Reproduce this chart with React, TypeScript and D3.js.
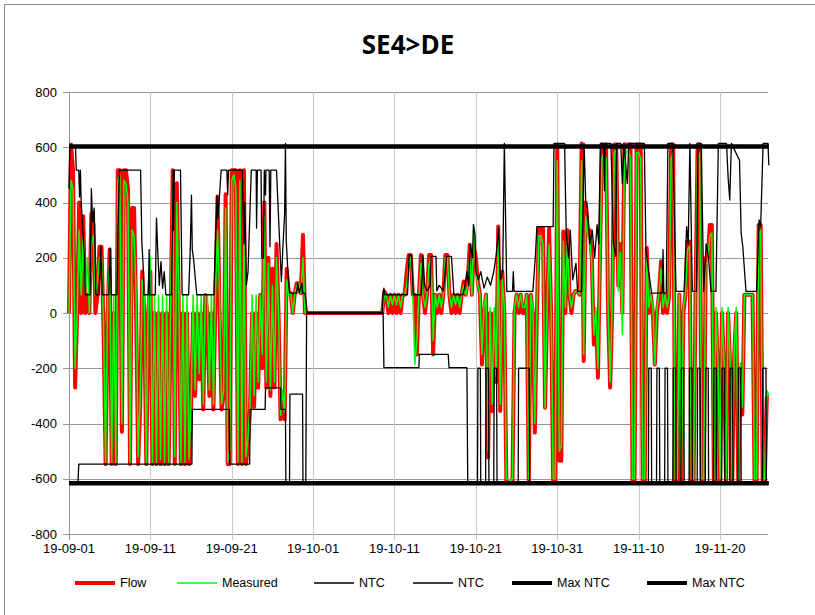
import React from 'react';
import * as d3 from 'd3';

// hourly flows sampled every 6 hours, day 0 = 2019-09-01
const startDate = new Date(2019, 8, 1);
const stepDays = 0.25;

const flow = [
  0, 610, 517, -270, 0, 400, 0, 350, 0, 65, 0, 360, 320, 0, 65, 240,
  240, -66, -547, 0, 230, -547, 0, -547, 517, 517, -430, 517, 517, 450, -547, 380,
  380, 0, -547, -340, 150, 0, -547, 0, 150, -547, 0, -547, 0, -547, 0, -547,
  0, -547, 0, 517, -547, 470, 0, -547, 0, -547, 0, -547, -349, 0, -300, 0,
  -240, 0, -349, 65, 0, -300, 0, -349, 65, 420, 0, -349, -300, 430, -547, -547,
  517, 517, 517, -547, 517, -547, 517, -547, -475, -349, 0, -340, 0, -270, 65, -200,
  400, -270, 200, -300, 160, -270, 250, 0, -385, -300, -385, 160, 72, 72, 0, 72,
  108, 108, 72, 283,
  0, 0, 0, 0, 0, 0, 0, 0, 0, 0, 0, 0, 0, 0, 0, 0, 0, 0,
  0, 0, 0, 0, 0, 0, 0, 0, 0, 0, 0, 0, 0, 0, 0, 0, 0, 0,
  0, 0, 0, 78, 66, 0, 66, 0, 66, 0, 66, 0, 66, 66, 150, 210,
  210, 66, 66, -150, 66, 210, 66, 0, 66, 210, 210, -150, 66, 0, 66, 0,
  66, 210, 210, 66, 0, 66, 0, 66, 0, 66, 114, 66, 114, 247, 66, 240,
  200, 114, 66, -186, 0, 66, -523, 0, -355, 0, -250, 313, -355, 150, 0, -614,
  -614, -614, -614, 0, 66, 0, 66, 0, 0, 66, -614, 66, 0, -433, 0, 307,
  307, 307, -343, 0, 307, 0, -614, -614, 610, -535, -535, 295, 0, 300, 66, 0,
  66, 80, 80, 66, 614, -174, 400, 300, 300, 200, -114, 0, -234, 200, 610, 610,
  610, 0, -270, 0, 610, 610, 100, 250, 0, 610, 610, 610, 610, -614, -614, 610,
  610, 610, -614, -614, 235, 0, 66, 0, -186, 0, 66, 187, 0, 66, 0, 66,
  610, 610, -614, -614, 66, -614, 0, 66, 259, 259, -614, -614, 66, 610, 610, -614,
  -614, 199, 199, 319, 319, -614, 0, -200, -614, 0, -200, -614, 0, -200, -614, -150,
  0, -614, -200, -367, 66, 66, 66, 66, 66, -614, -614, 319, 319, -614, -614, -307,
  -307,
];

const measured = [
  0, 480, 450, -200, 0, 300, 65, 280, 65, 200, 0, 250, 280, 65, 120, 200,
  200, -50, -540, 65, 180, -540, 65, -540, 480, 500, -400, 480, 470, 400, -540, 300,
  280, 65, -520, -300, 120, 65, -540, 65, 200, -540, 65, -540, 65, -530, 65, -540,
  65, -540, 65, 450, -520, 400, 65, -540, 65, -540, 65, -530, -330, 65, -280, 65,
  -220, 65, -330, 65, 65, -280, 65, -330, 65, 300, 65, -330, -280, 380, -540, -500,
  480, 500, 450, -540, 480, -540, 300, -520, -450, -330, 65, -300, 65, -250, 65, -150,
  350, -250, 180, -280, 100, -250, 200, 0, -370, -280, -360, 120, 65, 72, 0, 72,
  100, 108, 72, 200,
  0, 0, 0, 0, 0, 0, 0, 0, 0, 0, 0, 0, 0, 0, 0, 0, 0, 0,
  0, 0, 0, 0, 0, 0, 0, 0, 0, 0, 0, 0, 0, 0, 0, 0, 0, 0,
  0, 0, 0, 60, 66, 20, 66, 30, 66, 30, 66, 20, 66, 66, 100, 180,
  200, 66, -186, -100, 66, 180, 66, 20, 66, 180, 200, -100, 66, 20, 66, 20,
  66, 200, 200, 66, 20, 66, 30, 66, 20, 66, 100, 66, 100, 200, 66, 313,
  150, 100, 66, -150, 20, 66, -500, 20, -330, 20, -230, 280, -330, 120, 20, -600,
  -600, -610, -600, 20, 66, 20, 66, 20, 20, 66, -600, 66, 20, -400, 20, 280,
  280, 250, -343, 20, 250, 20, -600, -600, 550, -500, -480, 260, 20, 260, 66, 20,
  66, 80, 80, 66, 550, -150, 350, 280, 260, 180, -80, 20, -200, 180, 560, 580,
  560, 20, -250, 20, 580, 590, 80, 220, -78, 560, 580, 590, 560, -600, -600, 580,
  580, 560, -600, -600, 200, 20, 66, 20, -186, 20, 66, 160, 20, 66, 20, 66,
  560, 580, -600, -600, 66, -600, 20, 66, 230, 240, -600, -600, 66, 560, 580, -600,
  -600, 180, 180, 280, 290, -600, 20, -180, -600, 20, -180, -600, 20, -180, -600, -130,
  20, -600, -180, -340, 66, 66, 66, 66, 66, -600, -600, 280, 300, -600, -600, -280,
  -300,
];

// [day, MW]
const ntcUp: [number, number][] = [
  [0, 450], [0.1, 600], [0.8, 600], [0.9, 517], [1.2, 517], [1.3, 420], [1.4, 517], [1.5, 400],
  [1.7, 300], [1.9, 200], [2.0, 66], [2.6, 66], [2.75, 450], [2.9, 330], [3.1, 380], [3.3, 66],
  [3.7, 66], [3.9, 240], [4.1, 66], [4.9, 66], [5.05, 235], [5.2, 66], [5.9, 66], [6.0, 283],
  [6.2, 517], [8.8, 517], [8.95, 259], [9.15, 150], [9.2, 66], [9.75, 66], [9.85, 229], [9.95, 66],
  [10.6, 66], [10.75, 343], [10.9, 229], [11.1, 100], [11.3, 186], [11.5, 90], [11.7, 150], [11.9, 66],
  [12.6, 66], [12.8, 517], [12.85, 300], [12.95, 517], [13.7, 517], [13.9, 66], [14.7, 66], [14.9, 229],
  [15.05, 427], [15.15, 229], [15.3, 198], [15.7, 66], [17.8, 66], [18.0, 259], [18.2, 427], [18.3, 340],
  [18.7, 517], [19.4, 517], [19.5, 427], [19.6, 517], [21.3, 517], [21.5, 250], [21.6, 400], [21.8, 102],
  [22.0, 150], [22.4, 517], [23.0, 517], [23.05, 307], [23.15, 517], [23.6, 517], [23.7, 198], [23.9, 198],
  [24.0, 517], [24.15, 427], [24.2, 517], [24.6, 517], [24.7, 240], [24.8, 517], [25.5, 517], [25.9, 247],
  [26.1, 114], [26.3, 247], [26.5, 360], [26.6, 614], [26.7, 260], [26.9, 150], [27.1, 72], [28.0, 72],
  [28.1, 108], [28.3, 72], [28.6, 108], [28.7, 72], [29.0, 72], [29.3, 0], [38.5, 0], [38.6, 72],
  [38.7, 90], [38.8, 66], [41.6, 66], [41.8, 210], [42.1, 210], [42.3, 66], [43.3, 66], [43.5, 210],
  [43.7, 100], [44.0, 80], [44.4, 100], [44.5, 205], [45.1, 205], [45.2, 80], [45.5, 100], [46.0, 80],
  [46.4, 205], [47.0, 205], [47.3, 66], [48.4, 66], [48.6, 90], [48.9, 150], [49.1, 100], [49.3, 247],
  [49.6, 200], [49.7, 320], [49.9, 283], [50.0, 150], [50.3, 120], [50.6, 150], [51.0, 90], [51.4, 130],
  [51.8, 100], [52.2, 150], [52.5, 210], [52.8, 307], [53.0, 120], [53.3, 150], [53.5, 614], [53.8, 78],
  [54.5, 78], [54.6, 150], [54.7, 78], [57.0, 78], [57.3, 198], [57.5, 313], [59.5, 313], [59.6, 614],
  [60.9, 614], [61.1, 295], [61.4, 200], [61.6, 300], [61.9, 120], [62.3, 180], [62.5, 78], [63.0, 78],
  [63.3, 614], [63.5, 403], [63.7, 380], [64.0, 250], [64.3, 300], [64.6, 200], [64.9, 320], [65.1, 250],
  [65.3, 614], [65.7, 614], [65.8, 443], [65.9, 614], [66.6, 614], [66.9, 253], [67.2, 205], [67.3, 614],
  [67.8, 614], [68.0, 469], [68.2, 614], [68.6, 469], [68.8, 614], [70.7, 614], [70.9, 229], [71.2, 156],
  [71.6, 72], [72.9, 72], [73.0, 229], [73.1, 72], [73.4, 72], [73.6, 614], [74.2, 614], [74.6, 78],
  [75.6, 78], [75.9, 313], [76.1, 250], [76.3, 614], [76.6, 78], [77.1, 78], [77.3, 614], [77.7, 614],
  [78.0, 78], [78.3, 250], [78.6, 200], [78.9, 78], [79.5, 78], [79.8, 614], [80.8, 614], [81.0, 490],
  [81.2, 409], [81.4, 614], [82.4, 553], [82.6, 289], [82.8, 240], [83.2, 78], [84.5, 78], [84.8, 337],
  [85.0, 313], [85.3, 614], [85.9, 614], [86.0, 535],
];

const ntcDown: [number, number][] = [
  [0, -614], [1.1, -614], [1.2, -547], [15.1, -547], [15.15, -349], [19.7, -349], [19.75, -547], [22.2, -547],
  [22.25, -349], [24.1, -349], [24.15, -271], [26.0, -271], [26.05, -349], [26.6, -349], [26.65, -614], [27.1, -614],
  [27.15, -294], [28.7, -294], [28.75, -614], [29.1, -614], [29.2, 0], [38.6, 0], [38.7, -198], [43.0, -198],
  [43.05, -150], [46.6, -150], [46.7, -198], [48.9, -198], [49.0, -614],
  [50.2, -614], [50.25, -200], [50.55, -200], [50.6, -614], [51.2, -614], [51.25, -200], [51.55, -200], [51.6, -614],
  [52.2, -614], [52.25, -200], [52.55, -200], [52.6, -614], [55.2, -614], [55.25, -200], [56.55, -200], [56.6, -614],
  [71.2, -614], [71.25, -200], [71.55, -200], [71.6, -614], [72.2, -614], [72.25, -200], [72.55, -200], [72.6, -614],
  [73.2, -614], [73.25, -200], [73.55, -200], [73.6, -614], [74.2, -614], [74.25, -200], [74.55, -200], [74.6, -614],
  [75.2, -614], [75.25, -200], [75.55, -200], [75.6, -614], [76.2, -614], [76.25, -200], [76.55, -200], [76.6, -614],
  [77.2, -614], [77.25, -200], [77.55, -200], [77.6, -614], [78.2, -614], [78.25, -200], [78.55, -200], [78.6, -614],
  [79.2, -614], [79.25, -200], [79.55, -200], [79.6, -614], [80.2, -614], [80.25, -200], [80.55, -200], [80.6, -614],
  [81.2, -614], [81.25, -200], [81.55, -200], [81.6, -614], [82.2, -614], [82.25, -200], [82.55, -200], [82.6, -614],
  [85.2, -614], [85.25, -200], [85.65, -200], [85.7, -614], [86.0, -614],
];

const maxNtcUp: [number, number][] = [[0, 603], [86, 603]];
const maxNtcDown: [number, number][] = [[0, -616], [86, -616]];

const yTicks = [-800, -600, -400, -200, 0, 200, 400, 600, 800];
const xTickDays = [0, 10, 20, 30, 40, 50, 60, 70, 80];

const legendItems = [
  { label: 'Flow', color: '#ff0000', width: 4, x: 75 },
  { label: 'Measured', color: '#00ff00', width: 1.5, x: 177 },
  { label: 'NTC', color: '#000000', width: 1.3, x: 314 },
  { label: 'NTC', color: '#000000', width: 1.3, x: 413 },
  { label: 'Max NTC', color: '#000000', width: 4, x: 512 },
  { label: 'Max NTC', color: '#000000', width: 4, x: 647 },
];

const W = 815;
const H = 615;
const left = 69;
const right = 768;
const top = 92;
const bottom = 534;

export default function App() {
  const x = d3.scaleLinear().domain([0, 85.9]).range([left, right]);
  const y = d3.scaleLinear().domain([-800, 800]).range([bottom, top]);
  const fmt = d3.timeFormat('%y-%m-%d');

  const pairLine = d3.line<[number, number]>().x(d => x(d[0])).y(d => y(d[1]));
  const seriesLine = d3.line<number>().x((_, i) => x(i * stepDays)).y(d => y(d));

  const font = '"Liberation Sans", Arial, sans-serif';

  return (
    <svg width={W} height={H} style={{ position: 'absolute', left: 0, top: 0 }}>
      <rect x={0} y={0} width={W} height={H} fill="#fff" />
      <rect x={4.5} y={4.5} width={W + 20} height={H + 20} fill="none" stroke="#8c8c8c" />
      <text x={408} y={54} textAnchor="middle" fontFamily='"Open Sans", sans-serif' fontWeight="bold" fontSize={26}>
        SE4&gt;DE
      </text>

      {/* grid */}
      {yTicks.map(t => (
        <g key={'y' + t}>
          <line x1={left - 6} x2={right} y1={Math.round(y(t)) + 0.5} y2={Math.round(y(t)) + 0.5} stroke="#969696" />
          <text x={57} y={y(t)} dy="0.35em" textAnchor="end" fontFamily={font} fontSize={13}>{t}</text>
        </g>
      ))}
      {xTickDays.map(d => (
        <g key={'x' + d}>
          <line x1={Math.round(x(d)) + 0.5} x2={Math.round(x(d)) + 0.5} y1={top} y2={bottom + 6}
            stroke={d === 0 ? '#969696' : '#c8c8c8'} />
          <text x={x(d)} y={548} dy="0.35em" textAnchor="middle" fontFamily={font} fontSize={13}>
            {fmt(d3.timeDay.offset(startDate, d))}
          </text>
        </g>
      ))}

      <g fill="none" strokeLinejoin="round">
        <path d={seriesLine(flow) || ''} stroke="#ff0000" strokeWidth={4} />
        <path d={seriesLine(measured) || ''} stroke="#00ff00" strokeWidth={1.5} />
        <path d={pairLine(ntcUp) || ''} stroke="#000" strokeWidth={1.3} />
        <path d={pairLine(ntcDown) || ''} stroke="#000" strokeWidth={1.3} />
        <path d={pairLine(maxNtcUp) || ''} stroke="#000" strokeWidth={4.5} />
        <path d={pairLine(maxNtcDown) || ''} stroke="#000" strokeWidth={4.5} />
      </g>

      {/* legend */}
      {legendItems.map((it, i) => (
        <g key={i}>
          <line x1={it.x} x2={it.x + 40} y1={583} y2={583} stroke={it.color} strokeWidth={it.width} />
          <text x={it.x + 45} y={583} dy="0.35em" fontFamily={font} fontSize={12.5}>{it.label}</text>
        </g>
      ))}
    </svg>
  );
}
